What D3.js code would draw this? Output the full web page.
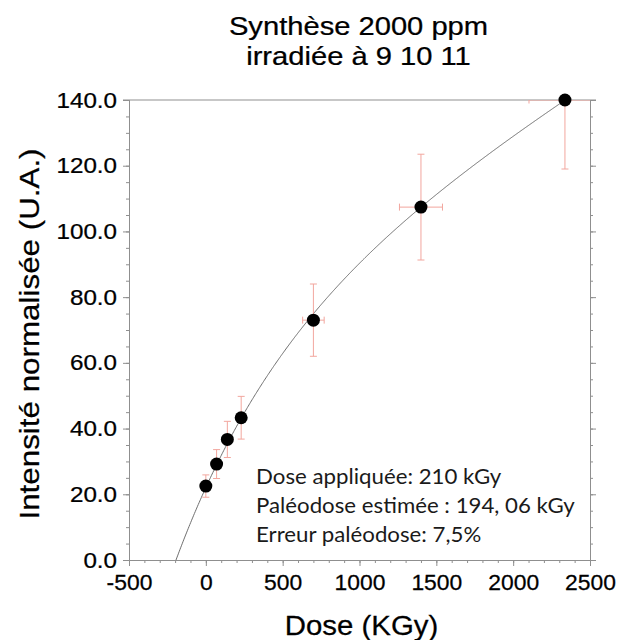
<!DOCTYPE html>
<html><head><meta charset="utf-8">
<script src="https://cdn.jsdelivr.net/npm/d3@7"></script>
<style>body{margin:0;background:#fff}</style>
</head><body>
<script>
// ---- data ----
const doses = [0, 70, 140, 230, 700, 1400, 2337];
const intensities = [22.5, 29.2, 36.7, 43.3, 73.0, 107.4, 140.0];
const doseErr = [0, 7, 14, 23, 70, 140, 234];
const intensityErr = [3.4, 4.4, 5.5, 6.5, 11.0, 16.1, 21.0];
const xTicks = [-500, 0, 500, 1000, 1500, 2000, 2500];
const yTicks = [0, 20, 40, 60, 80, 100, 120, 140];
const titleLines = ["Synthèse 2000 ppm", "irradiée à 9 10 11"];
const annotation = ["Dose appliquée: 210 kGy", "Paléodose estimée : 194, 06 kGy", "Erreur paléodose: 7,5%"];
// fitted dose-response (saturating exponential + linear), x-intercept = -paleodose
const fitPaleodose = 194.06, fitA = 67.6, fitD = 700, fitB = 0.0293;
const fitEnd = 2337;

const W = 618, H = 640;
const m = {l:129, r:590, t:100, b:560};
const svg = d3.select("body").append("svg").attr("width", W).attr("height", H);
const x = d3.scaleLinear().domain([-500, 2500]).range([m.l, m.r]);
const y = d3.scaleLinear().domain([0, 140]).range([m.b, m.t]);
const axisCol = "#8f8f8f";
const font = "'Liberation Sans', Arial, Helvetica, sans-serif";
const thick = sel => sel.attr("stroke", "#000").attr("stroke-width", 0.25).attr("paint-order", "stroke");

// Title
titleLines.forEach((t, i) => {
  svg.append("text").attr("transform", `translate(${(m.l+m.r)/2 - 1},${35 + i*29.8}) scale(1.1,1)`)
    .attr("text-anchor", "middle").attr("font-family", font).attr("font-size", 26.5).text(t).call(thick);
});

// axes
const xAxis = d3.axisBottom(x).tickValues(xTicks).tickFormat(d => String(d)).tickSize(6).tickPadding(4);
const xMinor = d3.axisBottom(x).tickValues(d3.range(-500, 2501, 100)).tickFormat("").tickSize(3);
const yAxis = d3.axisLeft(y).tickValues(yTicks).tickFormat(d3.format(".1f")).tickSize(6).tickPadding(5);
const yMinor = d3.axisLeft(y).tickValues(d3.range(0, 141, 5)).tickFormat("").tickSize(3);
const yRightMajor = d3.axisRight(y).tickValues(yTicks).tickFormat("").tickSize(6);
const yRightMinor = d3.axisRight(y).tickValues(d3.range(0, 141, 5)).tickFormat("").tickSize(3);

function style(g){
  g.selectAll(".domain").attr("stroke", axisCol).attr("stroke-width", 1);
  g.selectAll(".tick line").attr("stroke", axisCol);
  g.selectAll("text").attr("font-family", font).attr("fill", "#000");
}
const gx = svg.append("g").attr("transform", `translate(0,${m.b})`);
gx.append("g").call(xMinor).call(style);
gx.append("g").call(xAxis).call(style);
gx.selectAll("text").attr("font-size", 22).attr("dy", "0.93em").attr("transform", "scale(1.04,1)").call(thick);

const gy = svg.append("g").attr("transform", `translate(${m.l},0)`);
gy.append("g").call(yMinor).call(style);
gy.append("g").call(yAxis).call(style);
gy.selectAll("text").attr("font-size", 22).attr("transform", "scale(1.1,1)").attr("x", -12/1.1).call(thick);

const gr = svg.append("g").attr("transform", `translate(${m.r},0)`);
gr.append("g").call(yRightMinor).call(style);
gr.append("g").call(yRightMajor).call(style);

// top frame line
svg.append("line").attr("x1", m.l-6).attr("x2", m.r+6).attr("y1", m.t).attr("y2", m.t)
  .attr("stroke", axisCol).attr("stroke-width", 1);

// axis titles
svg.append("text").attr("transform", `translate(${(m.l+m.r)/2+2},635) scale(1.05,1)`)
  .attr("text-anchor", "middle").attr("font-family", font).attr("font-size", 28).text("Dose (KGy)").call(thick);
svg.append("text").attr("transform", `translate(39,${(m.t+m.b)/2+4}) rotate(-90) scale(1.12,1)`)
  .attr("text-anchor", "middle").attr("font-family", font).attr("font-size", 28).text("Intensité normalisée (U.A.)").call(thick);

// clip for plot area
svg.append("clipPath").attr("id", "clip").append("rect")
  .attr("x", m.l).attr("y", m.t).attr("width", m.r - m.l).attr("height", m.b - m.t);
const plot = svg.append("g").attr("clip-path", "url(#clip)");

// fit curve
const fitX = d3.range(-fitPaleodose, fitEnd, 5).concat([fitEnd]);
const fitFn = v => { const u = v + fitPaleodose; return fitA * (1 - Math.exp(-u / fitD)) + fitB * u; };
plot.append("path").datum(fitX)
  .attr("d", d3.line().x(d => x(d)).y(d => y(fitFn(d))))
  .attr("fill", "none").attr("stroke", "#6e6e6e").attr("stroke-width", 1);

// error bars
const errCol = "#f2a69e";
const pts = doses.map((d, i) => ({x: d, y: intensities[i], ex: doseErr[i], ey: intensityErr[i]}));
const eb = plot.append("g").attr("stroke", errCol).attr("stroke-width", 1).attr("fill", "none");
const cap = 3.5;
pts.forEach(p => {
  eb.append("line").attr("x1", x(p.x)).attr("x2", x(p.x)).attr("y1", y(p.y - p.ey)).attr("y2", y(p.y + p.ey));
  eb.append("line").attr("x1", x(p.x)-cap).attr("x2", x(p.x)+cap).attr("y1", y(p.y - p.ey)).attr("y2", y(p.y - p.ey));
  eb.append("line").attr("x1", x(p.x)-cap).attr("x2", x(p.x)+cap).attr("y1", y(p.y + p.ey)).attr("y2", y(p.y + p.ey));
  if (p.ex > 0) {
    eb.append("line").attr("x1", x(p.x - p.ex)).attr("x2", x(p.x + p.ex)).attr("y1", y(p.y)).attr("y2", y(p.y));
    eb.append("line").attr("x1", x(p.x - p.ex)).attr("x2", x(p.x - p.ex)).attr("y1", y(p.y)-cap).attr("y2", y(p.y)+cap);
    eb.append("line").attr("x1", x(p.x + p.ex)).attr("x2", x(p.x + p.ex)).attr("y1", y(p.y)-cap).attr("y2", y(p.y)+cap);
  }
});

// points (not clipped)
svg.append("g").selectAll("circle").data(pts).join("circle")
  .attr("cx", d => x(d.x)).attr("cy", d => y(d.y)).attr("r", 6.5).attr("fill", "#000");

// annotation
annotation.forEach((t, i) => {
  svg.append("text").attr("transform", `translate(256,${484 + i*29}) scale(1.06,1)`)
    .attr("font-family", "Lato, 'Open Sans', sans-serif").attr("font-size", 21).attr("fill", "#1a1a1a").text(t);
});
</script>
</body></html>
